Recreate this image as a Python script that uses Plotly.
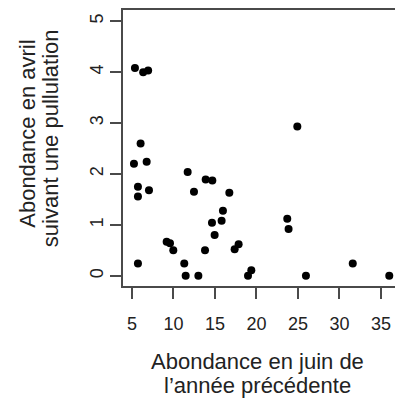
import plotly.graph_objects as go

# Data
juin = [5.36, 6.35, 6.95, 6.04, 5.24, 6.77, 5.72, 5.72, 7.05, 5.72,
        11.71, 12.47, 9.18, 9.58, 9.98, 11.30, 11.47, 13.0, 13.88, 14.68,
        13.80, 14.64, 14.96, 15.80, 15.96, 16.73, 17.37, 17.85, 18.98, 19.38,
        23.71, 23.87, 24.92, 25.96, 31.6, 36.0]
avril = [4.08, 4.00, 4.03, 2.60, 2.20, 2.24, 1.75, 1.56, 1.68, 0.24,
         2.04, 1.65, 0.67, 0.64, 0.50, 0.24, 0.0, 0.0, 1.89, 1.87,
         0.50, 1.04, 0.80, 1.08, 1.28, 1.63, 0.52, 0.62, 0.0, 0.11,
         1.12, 0.92, 2.93, 0.0, 0.24, 0.0]

x_ticks = [5, 10, 15, 20, 25, 30, 35]
y_ticks = [0, 1, 2, 3, 4, 5]
x_title = ["Abondance en juin de", "l’année précédente"]
y_title = ["Abondance en avril", "suivant une pullulation"]

FONT = "Liberation Sans, Arial, sans-serif"
LINE = "#4a4a4a"
TEXT = "#222222"

fig = go.Figure()
fig.add_trace(go.Scatter(
    x=juin, y=avril, mode="markers",
    marker=dict(color="black", size=8, line=dict(width=0)),
    showlegend=False, hoverinfo="x+y", cliponaxis=False))

fig.update_layout(
    width=395, height=398,
    margin=dict(l=123, r=0, t=10, b=112),
    paper_bgcolor="white", plot_bgcolor="white",
    font=dict(family=FONT, color=TEXT, size=18),
    xaxis=dict(range=[3.92, 36.69], tickvals=x_ticks, ticktext=[str(v) for v in x_ticks],
               showgrid=False, zeroline=False, showline=True, linecolor=LINE, linewidth=1.5,
               mirror=True, ticks="outside", ticklen=11, tickwidth=1.5, tickcolor=LINE,
               tickfont=dict(size=18, color=TEXT), ticklabelstandoff=10),
    yaxis=dict(range=[-0.2, 5.22], tickvals=y_ticks, ticktext=[str(v) for v in y_ticks],
               showgrid=False, zeroline=False, showline=True, linecolor=LINE, linewidth=1.5,
               mirror=False, ticks="outside", ticklen=11, tickwidth=1.5, tickcolor=LINE,
               tickangle=-90, tickfont=dict(size=18, color=TEXT), ticklabelstandoff=0),
)

ann = dict(xref="paper", yref="paper", showarrow=False,
           font=dict(family=FONT, size=22, color=TEXT), xanchor="center", yanchor="middle")
fig.add_annotation(text=x_title[0], x=0.4945, y=-0.272, **ann)
fig.add_annotation(text=x_title[1], x=0.4945, y=-0.359, **ann)
fig.add_annotation(text=y_title[0], x=-0.352, y=0.5525, textangle=-90, **ann)
fig.add_annotation(text=y_title[1], x=-0.268, y=0.536, textangle=-90, **ann)

fig.write_html("out.html", config={"displayModeBar": False},
               post_script="document.body.style.margin='0px';document.body.style.overflow='hidden';")
